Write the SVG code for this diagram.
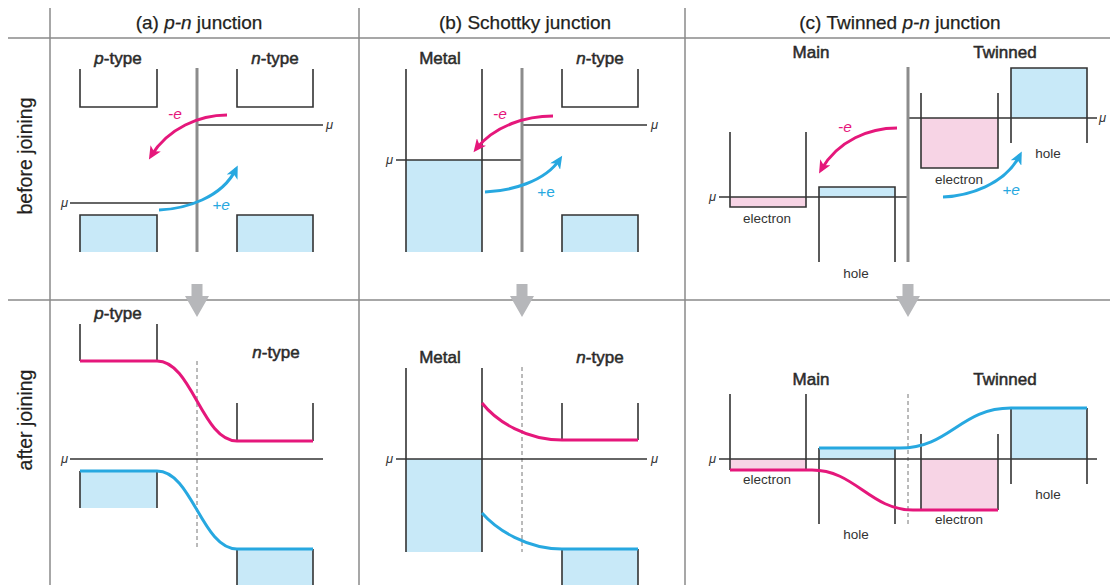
<svg xmlns="http://www.w3.org/2000/svg" width="1110" height="585" viewBox="0 0 1110 585">
<defs>
<marker id="ahM" markerUnits="userSpaceOnUse" markerWidth="14" markerHeight="12" viewBox="0 0 14 12" refX="9" refY="6" orient="auto">
<path d="M0,0 L13,6 L0,12 L3.5,6 Z" fill="#e5177b"/>
</marker>
<marker id="ahB" markerUnits="userSpaceOnUse" markerWidth="14" markerHeight="12" viewBox="0 0 14 12" refX="9" refY="6" orient="auto">
<path d="M0,0 L13,6 L0,12 L3.5,6 Z" fill="#27a8e0"/>
</marker>
</defs>
<style>
text{font-family:"Liberation Sans",Arial,sans-serif;fill:#231f20}
.hd{font-size:19px;text-anchor:middle;stroke:#231f20;stroke-width:0.25}
.rl{font-size:19.5px;text-anchor:middle;stroke:#231f20;stroke-width:0.2}
.lb{font-size:17px;text-anchor:middle;fill:#2b2b2b;stroke:#2b2b2b;stroke-width:0.5}
.sm{font-size:13.5px;text-anchor:middle;fill:#333}
.mu{font-size:13px;font-style:italic;fill:#333}
.mue{font-size:13px;font-style:italic;fill:#333;text-anchor:end}
.em{font-size:15.5px;font-style:italic;text-anchor:middle;fill:#e5177b}
.eb{font-size:15.5px;font-style:italic;text-anchor:middle;fill:#27a8e0}
.ebr{font-size:15.5px;text-anchor:middle;fill:#27a8e0}
.grid{stroke:#8a8a8a;stroke-width:1.5;fill:none}
.box{stroke:#333;stroke-width:1.6;fill:none}
.mul{stroke:#333;stroke-width:1.6;fill:none}
.jn{stroke:#8c8c8c;stroke-width:3;fill:none}
.dash{stroke:#777;stroke-width:1;stroke-dasharray:4,3;fill:none}
.bf{fill:#c8e9f8}
.pf{fill:#f7d4e5}
.mc{stroke:#e5177b;stroke-width:3;fill:none}
.bc{stroke:#27a8e0;stroke-width:3;fill:none}
.dn{fill:#b6b7ba}
</style>

<g id="grid">
<line class="grid" x1="50" y1="8" x2="50" y2="585"/>
<line class="grid" x1="359" y1="8" x2="359" y2="585"/>
<line class="grid" x1="685" y1="8" x2="685" y2="585"/>
<line class="grid" x1="8" y1="38" x2="1110" y2="38"/>
<line class="grid" x1="8" y1="300" x2="1110" y2="300"/>
</g>

<g id="headers">
<text class="hd" x="199" y="29">(a) <tspan font-style="italic">p-n</tspan> junction</text>
<text class="hd" x="525" y="29">(b) Schottky junction</text>
<text class="hd" x="900" y="29">(c) Twinned <tspan font-style="italic">p-n</tspan> junction</text>
<text class="rl" transform="translate(32,156) rotate(-90)">before joining</text>
<text class="rl" transform="translate(32,420) rotate(-90)">after joining</text>
</g>

<g id="down-arrows">
<polygon class="dn" points="191.5,284 202.5,284 202.5,296 209,296 197,317 185,296 191.5,296"/>
<polygon class="dn" points="516.5,284 527.5,284 527.5,296 534,296 522,317 510,296 516.5,296"/>
<polygon class="dn" points="902.5,284 913.5,284 913.5,296 920,296 908,317 896,296 902.5,296"/>
</g>

<!-- (a) before -->
<g id="a-before">
<text class="lb" x="118" y="64"><tspan font-style="italic">p</tspan>-type</text>
<text class="lb" x="275" y="64"><tspan font-style="italic">n</tspan>-type</text>
<path class="box" d="M80,69 V107 H157 V69"/>
<path class="box" d="M237,69 V107 H313 V69"/>
<rect class="bf" x="80" y="215" width="77" height="37"/>
<rect class="bf" x="237" y="215" width="76" height="37"/>
<path class="box" d="M80,252 V215 H157 V252"/>
<path class="box" d="M237,252 V215 H313 V252"/>
<line class="mul" x1="197" y1="125" x2="323" y2="125"/>
<line class="mul" x1="70" y1="203" x2="197" y2="203"/>
<line class="jn" x1="197" y1="68" x2="197" y2="252"/>
<text class="mu" x="326" y="129">μ</text>
<text class="mue" x="68" y="207">μ</text>
</g>

<!-- (b) before -->
<g id="b-before">
<text class="lb" x="440" y="64">Metal</text>
<text class="lb" x="600" y="64"><tspan font-style="italic">n</tspan>-type</text>
<rect class="bf" x="406" y="160" width="76" height="92"/>
<line class="box" x1="406" y1="69" x2="406" y2="252"/>
<line class="box" x1="482" y1="69" x2="482" y2="252"/>
<path class="box" d="M562,69 V107 H638 V69"/>
<rect class="bf" x="562" y="215" width="76" height="37"/>
<path class="box" d="M562,252 V215 H638 V252"/>
<line class="mul" x1="396" y1="160" x2="522" y2="160"/>
<line class="mul" x1="522" y1="125" x2="647" y2="125"/>
<line class="jn" x1="522" y1="68" x2="522" y2="252"/>
<text class="mue" x="393" y="164">μ</text>
<text class="mu" x="651" y="129">μ</text>
</g>

<!-- (c) before -->
<g id="c-before">
<text class="lb" x="811" y="58">Main</text>
<text class="lb" x="1005" y="58">Twinned</text>
<rect class="pf" x="730" y="197" width="76" height="10"/>
<path class="box" d="M730,132 V207 H806 V132"/>
<rect class="bf" x="819" y="187" width="76" height="10"/>
<path class="box" d="M819,262 V187 H895 V262"/>
<rect class="pf" x="921" y="118" width="77" height="50"/>
<path class="box" d="M921,93 V168 H998 V93"/>
<rect class="bf" x="1011" y="68" width="76" height="50"/>
<path class="box" d="M1011,143 V68 H1087 V143"/>
<line class="mul" x1="719" y1="197" x2="908" y2="197"/>
<line class="mul" x1="908" y1="118" x2="1097" y2="118"/>
<line class="jn" x1="908" y1="67" x2="908" y2="262"/>
<text class="mue" x="716" y="201">μ</text>
<text class="mu" x="1099" y="122">μ</text>
<text class="sm" x="767" y="223">electron</text>
<text class="sm" x="856" y="278">hole</text>
<text class="sm" x="959" y="184">electron</text>
<text class="sm" x="1048" y="158">hole</text>
</g>

<!-- (a) after -->
<g id="a-after">
<text class="lb" x="118" y="319"><tspan font-style="italic">p</tspan>-type</text>
<text class="lb" x="276" y="358"><tspan font-style="italic">n</tspan>-type</text>
<rect class="bf" x="80" y="471" width="77" height="37"/>
<path class="bf" d="M237,549 H313 V585 H237 Z"/>
<line class="box" x1="80" y1="324" x2="80" y2="361"/>
<line class="box" x1="157" y1="324" x2="157" y2="361"/>
<line class="box" x1="237" y1="403" x2="237" y2="441"/>
<line class="box" x1="313" y1="403" x2="313" y2="441"/>
<line class="box" x1="80" y1="471" x2="80" y2="508"/>
<line class="box" x1="157" y1="471" x2="157" y2="508"/>
<line class="box" x1="237" y1="549" x2="237" y2="585"/>
<line class="box" x1="313" y1="549" x2="313" y2="585"/>
<line class="dash" x1="197" y1="361" x2="197" y2="548"/>
<line class="mul" x1="70" y1="459" x2="323" y2="459"/>
<text class="mue" x="68" y="463">μ</text>
</g>

<!-- (b) after -->
<g id="b-after">
<text class="lb" x="440" y="363">Metal</text>
<text class="lb" x="600" y="363"><tspan font-style="italic">n</tspan>-type</text>
<rect class="bf" x="406" y="459" width="76" height="93"/>
<rect class="bf" x="562" y="549" width="76" height="36"/>
<line class="box" x1="406" y1="368" x2="406" y2="552"/>
<line class="box" x1="482" y1="368" x2="482" y2="552"/>
<line class="box" x1="562" y1="403" x2="562" y2="440"/>
<line class="box" x1="638" y1="403" x2="638" y2="440"/>
<line class="box" x1="562" y1="549" x2="562" y2="585"/>
<line class="box" x1="638" y1="549" x2="638" y2="585"/>
<line class="dash" x1="522" y1="367" x2="522" y2="552"/>
<line class="mul" x1="396" y1="459" x2="647" y2="459"/>
<text class="mue" x="393" y="463">μ</text>
<text class="mu" x="651" y="463">μ</text>
</g>

<!-- (c) after -->
<g id="c-after">
<text class="lb" x="811" y="385">Main</text>
<text class="lb" x="1005" y="385">Twinned</text>
<rect class="pf" x="730" y="459" width="76" height="11"/>
<rect class="bf" x="819" y="448" width="76" height="11"/>
<rect class="pf" x="921" y="459" width="77" height="51"/>
<rect class="bf" x="1011" y="408" width="76" height="51"/>
<line class="box" x1="730" y1="394" x2="730" y2="470"/>
<line class="box" x1="806" y1="394" x2="806" y2="470"/>
<line class="box" x1="819" y1="448" x2="819" y2="524"/>
<line class="box" x1="895" y1="448" x2="895" y2="524"/>
<line class="box" x1="921" y1="434" x2="921" y2="510"/>
<line class="box" x1="998" y1="434" x2="998" y2="510"/>
<line class="box" x1="1011" y1="408" x2="1011" y2="484"/>
<line class="box" x1="1087" y1="408" x2="1087" y2="484"/>
<line class="dash" x1="908" y1="394" x2="908" y2="524"/>
<line class="mul" x1="719" y1="459" x2="1097" y2="459"/>
<text class="mue" x="716" y="463">μ</text>
<text class="sm" x="767" y="484">electron</text>
<text class="sm" x="856" y="539">hole</text>
<text class="sm" x="959" y="524">electron</text>
<text class="sm" x="1048" y="499">hole</text>
</g>

<g id="connectors">
<path class="mc" d="M227,115 C200,115 168,128 151,156" marker-end="url(#ahM)"/>
<path class="bc" d="M159,210 C185,209 222,198 236,169" marker-end="url(#ahB)"/>
<path class="mc" d="M553,116 C527,116 495,125 476,149" marker-end="url(#ahM)"/>
<path class="bc" d="M485,192 C510,191 545,182 560,159" marker-end="url(#ahB)"/>
<path class="mc" d="M897,128 C870,128 838,140 821,170" marker-end="url(#ahM)"/>
<path class="bc" d="M943,197 C968,196 1005,185 1020,155" marker-end="url(#ahB)"/>
<path class="mc" d="M80,361 H157 C192,361 202,441 237,441 H313"/>
<path class="bc" d="M80,471 H157 C192,471 202,549 237,549 H313"/>
<path class="mc" d="M482,403 C497,422 527,440 562,440 H638"/>
<path class="bc" d="M482,513 C497,530 527,549 562,549 H638"/>
<path class="mc" d="M730,470 H812 C855,470 870,510 913,510 H998"/>
<path class="bc" d="M819,448 H900 C950,448 960,408 1011,408 H1087"/>
</g>

<g id="charge-labels">
<text class="em" x="175" y="119">-e</text>
<text class="eb" x="221" y="210">+e</text>
<text class="em" x="500" y="119">-e</text>
<text class="ebr" x="546" y="197">+e</text>
<text class="em" x="845" y="132">-e</text>
<text class="eb" x="1011" y="195">+e</text>
</g>
</svg>
